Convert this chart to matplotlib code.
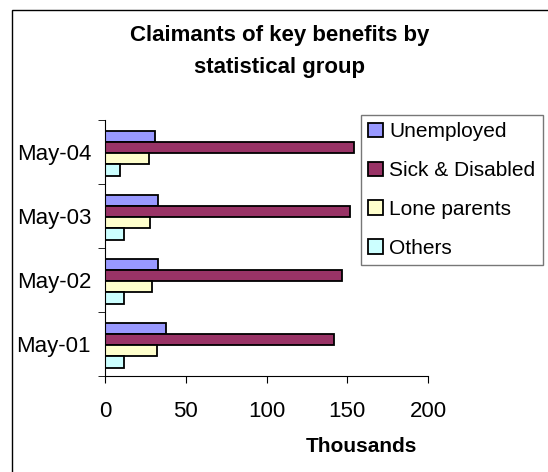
import numpy as np
import matplotlib
matplotlib.use("Agg")
import matplotlib.pyplot as plt
from matplotlib.patches import Rectangle

plt.rcParams['font.family'] = ['Liberation Sans', 'DejaVu Sans']

# data (thousands)
categories = ["May-01", "May-02", "May-03", "May-04"]
series = ["Unemployed", "Sick & Disabled", "Lone parents", "Others"]
unemployed = [38, 33, 33, 31]
sick = [142, 147, 152, 154]
lone = [32, 29, 28, 27]
others = [12, 12, 12, 9]
colors = ["#9999FF", "#993366", "#FFFFCC", "#CCFFFF"]

fig = plt.figure(figsize=(5.48, 4.72), dpi=100)
# outer chart frame, open at right and bottom like the original crop
fig.patches.append(Rectangle((12/548, -0.1), 1.2, 1.1 - 10/472,
                             transform=fig.transFigure, fill=False,
                             edgecolor="black", linewidth=1.0))

ax = fig.add_axes([105/548, 1 - 376/472, (428 - 105)/548, (376 - 120)/472])

y = np.arange(len(categories))
h = 0.175
offs = [1.5*h, 0.5*h, -0.5*h, -1.5*h]
vals = [unemployed, sick, lone, others]
for i in range(4):
    ax.barh(y + offs[i] - 0.02, vals[i], height=h, color=colors[i],
            edgecolor="black", linewidth=1.3, label=series[i])

ax.set_xlim(0, 200)
ax.set_ylim(-0.5, 3.5)
ax.set_xticks([0, 50, 100, 150, 200])
ax.set_yticks(y)
ax.set_yticklabels(categories)
ax.set_yticks(np.arange(-0.5, 4.0, 1.0), minor=True)
ax.tick_params(axis='y', which='major', length=0, labelsize=16, pad=10)
ax.tick_params(axis='y', which='minor', length=5, direction='out')
ax.tick_params(axis='x', length=5, direction='out', labelsize=16, pad=13)
for s in ["top", "right"]:
    ax.spines[s].set_visible(False)

fig.text(280/548, 1 - 36/472, "Claimants of key benefits by", ha="center",
         va="center", fontsize=16, fontweight="bold")
fig.text(280/548, 1 - 68/472, "statistical group", ha="center",
         va="center", fontsize=16, fontweight="bold")
fig.text(361/548, 1 - 447/472, "Thousands", ha="center", va="center",
         fontsize=15, fontweight="bold")

leg = fig.legend(loc="upper left", bbox_to_anchor=(361/548, 1 - 115/472),
                 fontsize=15, frameon=True, fancybox=False, edgecolor="#555555",
                 borderpad=0.35, labelspacing=0.95, handlelength=0.7,
                 handleheight=0.7, handletextpad=0.3, borderaxespad=0)
leg.get_frame().set_linewidth(1.0)

fig.savefig("out.png", dpi=100)
